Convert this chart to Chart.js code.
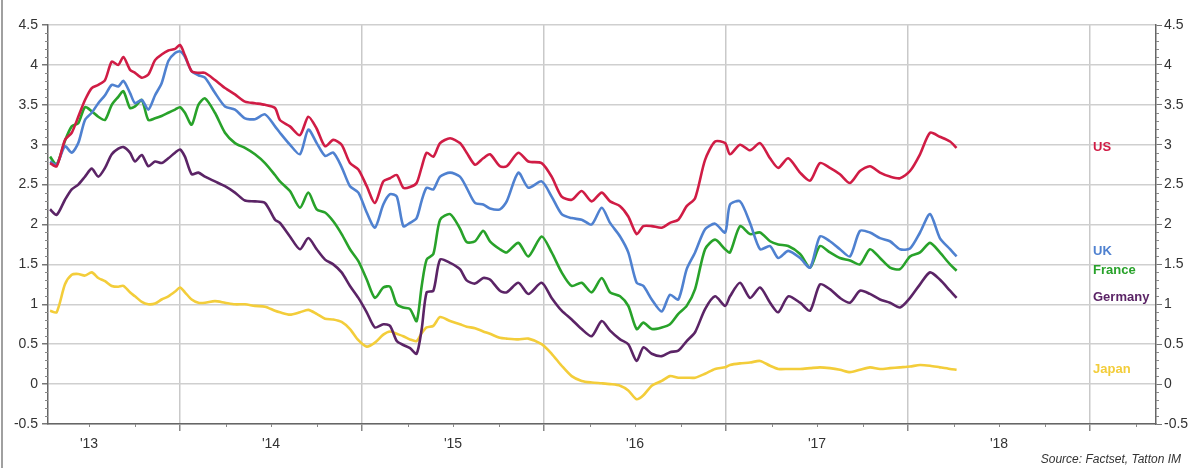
<!DOCTYPE html>
<html>
<head>
<meta charset="utf-8">
<script src="https://cdn.jsdelivr.net/npm/chart.js@4/dist/chart.umd.min.js"></script>
<style>
  html, body { margin: 0; padding: 0; background: #ffffff; }
  #wrap { position: relative; width: 1196px; height: 468px; }
</style>
</head>
<body>
<div id="wrap"><canvas id="c" width="1196" height="468"></canvas></div>
<script>
// Observation dates as decimal years
const dates = [
  2013.286, 2013.322, 2013.368, 2013.405, 2013.441, 2013.478, 2013.515, 2013.551, 2013.588, 2013.625,
  2013.661, 2013.689, 2013.725, 2013.753, 2013.790, 2013.826, 2013.863, 2013.899, 2013.936, 2013.973,
  2014.000, 2014.027, 2014.064, 2014.101, 2014.137, 2014.192, 2014.247, 2014.302, 2014.357, 2014.412,
  2014.467, 2014.522,
  2014.549, 2014.604, 2014.659, 2014.705, 2014.751, 2014.797, 2014.842, 2014.888, 2014.934, 2014.980,
  2015.026, 2015.071, 2015.117, 2015.154, 2015.191, 2015.227, 2015.264, 2015.300, 2015.328, 2015.355,
  2015.392, 2015.429, 2015.484, 2015.538, 2015.575, 2015.621, 2015.666, 2015.703, 2015.758,
  2015.795, 2015.859, 2015.914, 2015.987, 2016.042, 2016.097, 2016.152, 2016.207, 2016.262, 2016.317,
  2016.363, 2016.418, 2016.463, 2016.509, 2016.546, 2016.592, 2016.647, 2016.692, 2016.738, 2016.784,
  2016.830, 2016.885, 2016.940, 2016.995,
  2017.022, 2017.077, 2017.132, 2017.187, 2017.242, 2017.287, 2017.342, 2017.407, 2017.462, 2017.516,
  2017.571, 2017.626, 2017.681, 2017.736, 2017.791, 2017.846, 2017.901, 2017.956, 2018.011, 2018.066,
  2018.121, 2018.175, 2018.231, 2018.267
];

// Government bond yields, %
const us = [
  2.77, 2.73, 3.06, 3.15, 3.35, 3.56, 3.71, 3.75, 3.81, 4.04, 4.00, 4.10, 3.94, 3.90, 3.84, 3.88,
  4.06, 4.13, 4.18, 4.20, 4.25, 4.12, 3.92, 3.90, 3.90, 3.81, 3.71, 3.63, 3.54, 3.52, 3.50, 3.46,
  3.31, 3.23, 3.12, 3.35, 3.20, 2.98, 3.06, 3.00, 2.77, 2.69, 2.48, 2.27, 2.54, 2.58, 2.62, 2.46,
  2.47, 2.52, 2.72, 2.90, 2.85, 3.02, 3.08, 3.02, 2.90, 2.75, 2.83, 2.88, 2.73,
  2.73, 2.90, 2.79, 2.77, 2.60, 2.35, 2.31, 2.42, 2.29, 2.40, 2.29, 2.23, 2.10, 1.88, 1.98, 1.98,
  1.96, 2.02, 2.06, 2.23, 2.33, 2.81, 3.04, 3.02,
  2.88, 3.00, 2.93, 3.02, 2.83, 2.71, 2.83, 2.65, 2.55, 2.77, 2.71, 2.63, 2.52, 2.67, 2.73, 2.65,
  2.60, 2.58, 2.67, 2.88, 3.15, 3.10, 3.04, 2.96
];
const uk = [
  2.79, 2.75, 2.98, 2.90, 3.02, 3.31, 3.40, 3.52, 3.62, 3.75, 3.73, 3.80, 3.65, 3.52, 3.56, 3.44,
  3.62, 3.77, 4.05, 4.15, 4.17, 4.10, 3.92, 3.87, 3.84, 3.65, 3.48, 3.44, 3.33, 3.32, 3.38, 3.23,
  3.15, 3.00, 2.88, 3.19, 3.02, 2.86, 2.90, 2.72, 2.48, 2.40, 2.15, 1.96, 2.25, 2.38, 2.35, 1.98,
  2.02, 2.08, 2.30, 2.46, 2.44, 2.60, 2.65, 2.60, 2.46, 2.27, 2.25, 2.20, 2.19,
  2.29, 2.65, 2.46, 2.54, 2.35, 2.13, 2.08, 2.06, 2.00, 2.21, 2.02, 1.85, 1.65, 1.27, 1.23, 1.06,
  0.91, 1.12, 1.06, 1.44, 1.65, 1.94, 2.01, 1.90,
  2.25, 2.29, 2.02, 1.69, 1.73, 1.58, 1.67, 1.58, 1.46, 1.85, 1.79, 1.69, 1.60, 1.92, 1.90, 1.83,
  1.79, 1.69, 1.70, 1.90, 2.13, 1.83, 1.69, 1.60
];
const france = [
  2.85, 2.75, 3.05, 3.23, 3.27, 3.47, 3.42, 3.35, 3.31, 3.50, 3.60, 3.67, 3.46, 3.48, 3.56, 3.31,
  3.33, 3.36, 3.40, 3.44, 3.47, 3.40, 3.25, 3.50, 3.58, 3.40, 3.15, 3.02, 2.96, 2.88, 2.77, 2.62,
  2.54, 2.42, 2.21, 2.40, 2.19, 2.15, 2.04, 1.88, 1.69, 1.54, 1.31, 1.08, 1.21, 1.22, 1.00, 0.96,
  0.94, 0.79, 1.23, 1.56, 1.63, 2.06, 2.13, 1.95, 1.78, 1.79, 1.92, 1.79, 1.69,
  1.65, 1.77, 1.60, 1.85, 1.65, 1.40, 1.23, 1.27, 1.15, 1.33, 1.15, 1.10, 0.98, 0.69, 0.77, 0.69,
  0.71, 0.75, 0.88, 0.98, 1.19, 1.69, 1.81, 1.69,
  1.65, 1.98, 1.88, 1.90, 1.79, 1.75, 1.73, 1.63, 1.46, 1.73, 1.65, 1.58, 1.55, 1.50, 1.69, 1.58,
  1.46, 1.44, 1.60, 1.65, 1.77, 1.65, 1.50, 1.42
];
const germany = [
  2.19, 2.12, 2.31, 2.44, 2.50, 2.60, 2.70, 2.60, 2.71, 2.88, 2.95, 2.97, 2.90, 2.79, 2.87, 2.73,
  2.79, 2.77, 2.83, 2.90, 2.94, 2.85, 2.63, 2.65, 2.60, 2.54, 2.48, 2.40, 2.30, 2.29, 2.27, 2.06,
  2.02, 1.85, 1.69, 1.83, 1.69, 1.56, 1.50, 1.40, 1.23, 1.08, 0.90, 0.71, 0.75, 0.73, 0.54, 0.49,
  0.45, 0.38, 0.69, 1.15, 1.17, 1.56, 1.52, 1.44, 1.30, 1.26, 1.33, 1.31, 1.17,
  1.15, 1.27, 1.13, 1.27, 1.08, 0.92, 0.81, 0.69, 0.60, 0.79, 0.67, 0.56, 0.50, 0.29, 0.46, 0.38,
  0.35, 0.40, 0.42, 0.54, 0.65, 0.94, 1.10, 0.98,
  1.10, 1.27, 1.08, 1.21, 1.02, 0.90, 1.10, 1.02, 0.92, 1.25, 1.19, 1.08, 1.02, 1.17, 1.13, 1.06,
  1.02, 0.96, 1.08, 1.25, 1.40, 1.31, 1.17, 1.08
];
const japan = [
  0.92, 0.90, 1.25, 1.37, 1.38, 1.36, 1.40, 1.33, 1.29, 1.23, 1.22, 1.23, 1.15, 1.10, 1.03, 1.00,
  1.01, 1.06, 1.10, 1.16, 1.21, 1.15, 1.06, 1.02, 1.02, 1.04, 1.02, 1.00, 1.00, 0.98, 0.97, 0.92,
  0.90, 0.87, 0.90, 0.93, 0.88, 0.82, 0.81, 0.78, 0.69, 0.55, 0.47, 0.52, 0.62, 0.66, 0.63, 0.60,
  0.56, 0.54, 0.64, 0.71, 0.73, 0.84, 0.79, 0.75, 0.72, 0.70, 0.66, 0.63, 0.58,
  0.57, 0.56, 0.57, 0.50, 0.38, 0.23, 0.10, 0.04, 0.02, 0.01, 0.00, -0.02, -0.08, -0.19, -0.14, -0.02,
  0.04, 0.10, 0.08, 0.08, 0.08, 0.13, 0.19, 0.21,
  0.24, 0.26, 0.27, 0.29, 0.23, 0.19, 0.19, 0.19, 0.20, 0.21, 0.20, 0.18, 0.15, 0.18, 0.21, 0.19,
  0.20, 0.21, 0.22, 0.24, 0.23, 0.21, 0.19, 0.18
];

const seriesNames = ['US', 'UK', 'France', 'Germany', 'Japan'];
const seriesColors = ['#d01c45', '#4f81d0', '#28a22a', '#5b2466', '#f3cd3a'];
const seriesValues = [us, uk, france, germany, japan];

// Axis ticks: year boundaries carry gridlines, mid-years carry the labels
const xTicks = [2013.5, 2014, 2014.5, 2015, 2015.5, 2016, 2016.5, 2017, 2017.5, 2018, 2018.5, 2019];
const yTicks = [-0.5, 0, 0.5, 1, 1.5, 2, 2.5, 3, 3.5, 4, 4.5];
const sourceNote = 'Source: Factset, Tatton IM';

Chart.defaults.font.family = "'Liberation Sans', Arial, sans-serif";

const isYear = v => Math.abs(v - Math.round(v)) < 1e-6;
const fmtY = v => String(Math.round(v * 10) / 10);

const datasets = seriesNames.map((name, i) => ({
  label: name,
  data: dates.map((d, j) => ({ x: d, y: seriesValues[i][j] })),
  borderColor: seriesColors[i],
  backgroundColor: seriesColors[i],
  borderWidth: 2.6,
  pointRadius: 0,
  tension: 0.25,
  yAxisID: 'y'
}));

const yAxisCommon = {
  type: 'linear',
  min: -0.5,
  max: 4.5,
  afterBuildTicks: s => { s.ticks = yTicks.map(v => ({ value: v })); },
  ticks: { color: '#333', font: { size: 14 }, padding: 4, callback: v => fmtY(v) },
  border: { color: '#666', width: 1.5 }
};

const decor = {
  id: 'decor',
  afterDraw(chart) {
    const ctx = chart.ctx;
    const xs = chart.scales.x, ys = chart.scales.y;
    const area = chart.chartArea;
    ctx.save();

    // outer left frame line
    ctx.strokeStyle = '#a0a0a0';
    ctx.lineWidth = 2;
    ctx.beginPath(); ctx.moveTo(2, 0); ctx.lineTo(2, chart.height); ctx.stroke();

    // minor ticks on both value axes
    ctx.strokeStyle = '#888';
    ctx.lineWidth = 1;
    for (let k = -5; k <= 45; k++) {
      if (k % 5 === 0) continue;
      const py = Math.round(ys.getPixelForValue(k / 10)) + 0.5;
      ctx.beginPath(); ctx.moveTo(area.left - 3, py); ctx.lineTo(area.left, py); ctx.stroke();
      ctx.beginPath(); ctx.moveTo(area.right, py); ctx.lineTo(area.right + 3, py); ctx.stroke();
    }
    // quarter-year minor ticks on the time axis
    for (let q = Math.ceil(xs.min * 4); q <= Math.floor(xs.max * 4); q++) {
      if (q % 4 === 0) continue;
      const px = Math.round(xs.getPixelForValue(q / 4)) + 0.5;
      ctx.beginPath(); ctx.moveTo(px, area.bottom); ctx.lineTo(px, area.bottom + 3); ctx.stroke();
    }

    // series name labels beside the latest values
    const labels = chart.data.datasets.map((ds, i) => ({
      text: ds.label,
      color: ds.borderColor,
      y: ys.getPixelForValue(ds.data[ds.data.length - 1].y)
    })).sort((a, b) => b.y - a.y);
    const gap = 19;
    for (let i = 1; i < labels.length; i++) {
      if (labels[i - 1].y - labels[i].y < gap) labels[i].y = labels[i - 1].y - gap;
    }
    const lx = xs.getPixelForValue(2019) + 3;
    ctx.font = "bold 13px 'Liberation Sans', Arial, sans-serif";
    ctx.textAlign = 'left';
    ctx.textBaseline = 'middle';
    labels.forEach(l => { ctx.fillStyle = l.color; ctx.fillText(l.text, lx, l.y); });

    // source note
    ctx.font = "italic 12px 'Liberation Sans', Arial, sans-serif";
    ctx.fillStyle = '#333';
    ctx.textAlign = 'right';
    ctx.textBaseline = 'alphabetic';
    ctx.fillText(sourceNote, chart.width - 15, chart.height - 5);
    ctx.restore();
  }
};

new Chart(document.getElementById('c'), {
  type: 'line',
  data: { datasets },
  options: {
    responsive: false,
    animation: false,
    layout: { padding: { top: 25, left: 0, right: 0, bottom: 0 } },
    plugins: { legend: { display: false }, tooltip: { enabled: false } },
    scales: {
      x: {
        type: 'linear',
        position: 'bottom',
        min: 2013.2747,
        max: 2019.3626,
        afterBuildTicks: s => { s.ticks = xTicks.map(v => ({ value: v })); },
        afterFit: s => { s.height = 44; },
        ticks: {
          autoSkip: false, maxRotation: 0, color: '#333', font: { size: 14 }, padding: 5,
          callback: v => isYear(v) ? '' : "'" + String(Math.floor(v)).slice(2)
        },
        grid: {
          color: c => (c.tick && isYear(c.tick.value)) ? '#c9c9c9' : 'rgba(0,0,0,0)',
          lineWidth: 1.5,
          tickLength: 7,
          tickColor: c => (c.tick && isYear(c.tick.value)) ? '#888' : 'rgba(0,0,0,0)'
        },
        border: { color: '#666', width: 1.5 }
      },
      y: Object.assign({}, yAxisCommon, {
        position: 'left',
        afterFit: s => { s.width = 48; },
        grid: { color: '#cfcfcf', lineWidth: 1.5, tickLength: 6, tickColor: '#777' }
      }),
      y2: Object.assign({}, yAxisCommon, {
        position: 'right',
        afterFit: s => { s.width = 40; },
        ticks: Object.assign({}, yAxisCommon.ticks, { padding: 2 }),
        grid: { drawOnChartArea: false, tickLength: 6, tickColor: '#777' }
      })
    }
  },
  plugins: [decor]
});
</script>
</body>
</html>
